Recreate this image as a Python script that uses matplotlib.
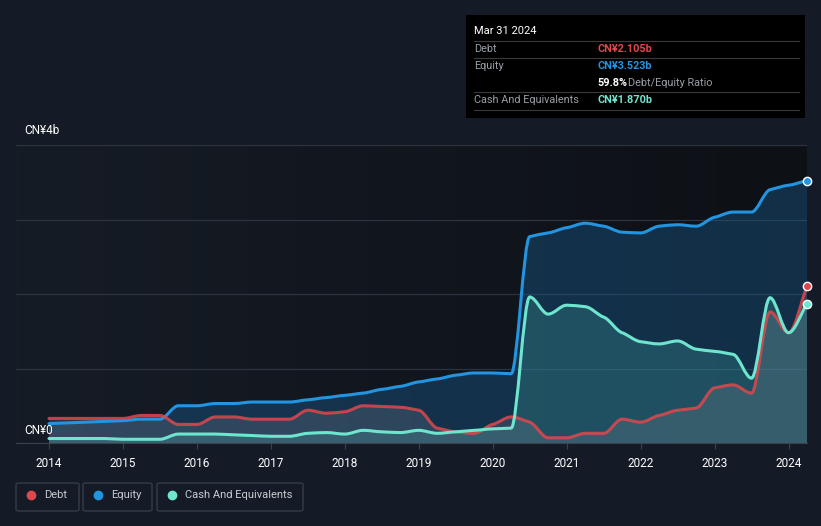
import matplotlib.pyplot as plt
import numpy as np
from matplotlib.patches import FancyBboxPatch, Rectangle, PathPatch
from matplotlib.path import Path
from matplotlib.lines import Line2D
from matplotlib.colors import LinearSegmentedColormap

plt.rcParams['font.family'] = ['Roboto', 'DejaVu Sans']

# quarterly dates and values (CN¥ billions)
dates = [2014.0, 2014.25, 2014.5, 2014.75, 2015.0, 2015.25, 2015.5, 2015.75,
         2016.0, 2016.25, 2016.5, 2016.75, 2017.0, 2017.25, 2017.5, 2017.75,
         2018.0, 2018.25, 2018.5, 2018.75, 2019.0, 2019.25, 2019.5, 2019.75,
         2020.0, 2020.25, 2020.5, 2020.75, 2021.0, 2021.25, 2021.5, 2021.75,
         2022.0, 2022.25, 2022.5, 2022.75, 2023.0, 2023.25, 2023.5, 2023.75,
         2024.0, 2024.25]
debt = [0.33, 0.33, 0.33, 0.33, 0.33, 0.37, 0.37, 0.25,
        0.25, 0.35, 0.35, 0.32, 0.32, 0.32, 0.44, 0.40,
        0.42, 0.50, 0.49, 0.48, 0.44, 0.20, 0.15, 0.13,
        0.25, 0.35, 0.28, 0.07, 0.07, 0.13, 0.13, 0.32,
        0.28, 0.37, 0.44, 0.47, 0.74, 0.78, 0.67, 1.76,
        1.48, 2.105]
equity = [0.26, 0.27, 0.28, 0.29, 0.30, 0.32, 0.32, 0.50,
          0.50, 0.53, 0.53, 0.55, 0.55, 0.55, 0.58, 0.61,
          0.64, 0.67, 0.72, 0.76, 0.82, 0.86, 0.91, 0.94,
          0.94, 0.93, 2.77, 2.82, 2.89, 2.95, 2.91, 2.83,
          2.82, 2.91, 2.93, 2.91, 3.03, 3.10, 3.10, 3.40,
          3.46, 3.523]
cash = [0.06, 0.06, 0.06, 0.06, 0.05, 0.05, 0.05, 0.12,
        0.12, 0.12, 0.11, 0.10, 0.09, 0.09, 0.13, 0.14,
        0.12, 0.17, 0.15, 0.14, 0.17, 0.13, 0.15, 0.17,
        0.19, 0.20, 1.96, 1.73, 1.85, 1.83, 1.69, 1.48,
        1.36, 1.33, 1.37, 1.26, 1.23, 1.19, 0.87, 1.95,
        1.48, 1.870]
years = list(range(2014, 2025))

bg = '#151b26'
c_debt = '#e0474c'
c_equity = '#2394df'
c_cash = '#6ee6cf'


def monotone_path(xs, ys, close=False):
    """Smooth monotone curve through the points, as cubic bezier segments."""
    xs = np.asarray(xs, float)
    ys = np.asarray(ys, float)
    h = np.diff(xs)
    s = np.diff(ys) / h
    m = np.zeros(len(xs))
    m[0], m[-1] = s[0], s[-1]
    for i in range(1, len(xs) - 1):
        if s[i - 1] * s[i] <= 0:
            m[i] = 0
        else:
            p = (s[i - 1] * h[i] + s[i] * h[i - 1]) / (h[i - 1] + h[i])
            m[i] = np.sign(s[i]) * min(abs(s[i - 1]), abs(s[i]), 0.5 * abs(p))
    verts = [(xs[0], ys[0])]
    codes = [Path.MOVETO]
    for i in range(len(xs) - 1):
        d = h[i] / 3
        verts += [(xs[i] + d, ys[i] + m[i] * d), (xs[i + 1] - d, ys[i + 1] - m[i + 1] * d),
                  (xs[i + 1], ys[i + 1])]
        codes += [Path.CURVE4] * 3
    if close:
        verts += [(xs[-1], 0), (xs[0], 0), (xs[0], ys[0])]
        codes += [Path.LINETO, Path.LINETO, Path.CLOSEPOLY]
    return Path(verts, codes)


W, H = 821, 526
fig = plt.figure(figsize=(W / 100, H / 100), dpi=100, facecolor=bg)

x0, x1 = 16, 807
y0, y1 = 443, 145
ax = fig.add_axes([x0 / W, 1 - y0 / H, (x1 - x0) / W, (y0 - y1) / H])
ax.set_facecolor(bg)
ax.set_xlim(2013.554, 2024.25)
ax.set_ylim(0, 4)

# darker gradient behind the data area
grad = np.linspace(0, 1, 256).reshape(1, -1)
cmap = LinearSegmentedColormap.from_list('bgg', ['#161c26', '#0d1015'])
ax.imshow(grad, extent=[2013.554, 2024.25, 0, 4], aspect='auto', cmap=cmap, zorder=0)

for v in [1, 2, 3, 4]:
    ax.axhline(v, color='#2e343d', lw=0.9, zorder=1)

fills = [(equity, '#1a5a8e', 0.42, 2), (cash, '#3fa5a0', 0.28, 3), (debt, '#8a8f99', 0.22, 4)]
for s, col, a, z in fills:
    ax.add_patch(PathPatch(monotone_path(dates, s, close=True), facecolor=col, alpha=a,
                           lw=0, zorder=z))

lines = [(equity, c_equity, 1.0, 5), (debt, c_debt, 0.85, 6), (cash, c_cash, 1.0, 7)]
for s, col, a, z in lines:
    ax.add_patch(PathPatch(monotone_path(dates, s), facecolor='none', edgecolor=col,
                           lw=2.2, alpha=a, zorder=z, joinstyle='round', capstyle='round'))

for s, c in [(equity, c_equity), (debt, c_debt), (cash, c_cash)]:
    ax.plot(dates[-1], s[-1], 'o', ms=6, mfc=c, mec='white', mew=1.0, zorder=9, clip_on=False)

for sp in ['top', 'right', 'left']:
    ax.spines[sp].set_visible(False)
ax.spines['bottom'].set_color('#3c424b')
ax.set_yticks([])
ax.set_xticks(years)
ax.set_xticklabels([str(y) for y in years])
ax.tick_params(axis='x', colors='#3c424b', length=4, labelcolor='white', labelsize=8.5, pad=6)

fig.text(24 / W, 1 - 131 / H, 'CN¥4b', color='white', fontsize=8.5, va='center')
fig.text(24 / W, 1 - 430 / H, 'CN¥0', color='white', fontsize=8.5, va='center')

# tooltip box
fig.patches.append(Rectangle((466 / W, 1 - 118 / H), (805 - 466) / W, (118 - 15) / H,
                             transform=fig.transFigure, facecolor='black', edgecolor='none'))
fig.text(474 / W, 1 - 31 / H, 'Mar 31 2024', color='white', fontsize=8, va='center')
for ly in [41, 58, 92, 110]:
    fig.add_artist(Line2D([474 / W, 799 / W], [1 - ly / H, 1 - ly / H], color='#3a3a3a', lw=0.8))
rows = [(49, 'Debt', 'CN¥2.105b', c_debt),
        (66, 'Equity', 'CN¥3.523b', c_equity),
        (100, 'Cash And Equivalents', 'CN¥1.870b', c_cash)]
for ry, lab, val, col in rows:
    fig.text(474 / W, 1 - ry / H, lab, color='#9a9ea5', fontsize=7.8, va='center')
    fig.text(597 / W, 1 - ry / H, val, color=col, fontsize=7.8, va='center', fontweight='bold')
fig.text(597 / W, 1 - 83 / H, '59.8%', color='white', fontsize=7.8, va='center', fontweight='bold')
fig.text(628 / W, 1 - 83 / H, 'Debt/Equity Ratio', color='#9a9ea5', fontsize=7.8, va='center')

# legend boxes
legend_items = [(16, 79, 'Debt', c_debt), (83, 152, 'Equity', c_equity),
                (157, 303, 'Cash And Equivalents', c_cash)]
for lx0, lx1, lab, col in legend_items:
    fig.patches.append(FancyBboxPatch((lx0 / W, 1 - 511 / H), (lx1 - lx0) / W, 28 / H,
                                      boxstyle='round,pad=0,rounding_size=0.003',
                                      transform=fig.transFigure, facecolor='none',
                                      edgecolor='#3a4049', lw=0.9))
    fig.add_artist(Line2D([(lx0 + 15) / W], [1 - 495 / H], marker='o', ms=6,
                          color=col, lw=0))
    fig.text((lx0 + 28) / W, 1 - 495 / H, lab, color='#c8ccd2', fontsize=8, va='center')

fig.savefig('out.png', dpi=100, facecolor=bg)
